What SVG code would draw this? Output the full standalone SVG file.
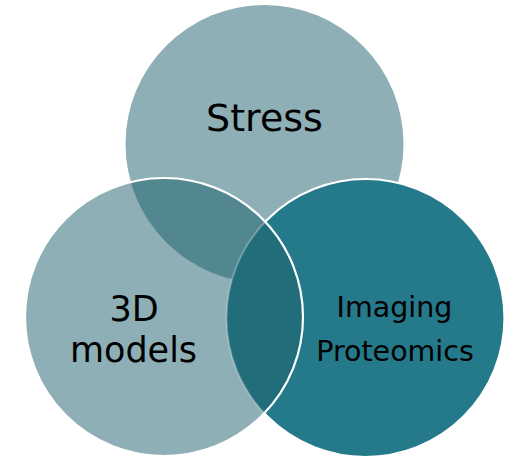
<svg xmlns="http://www.w3.org/2000/svg" width="515" height="459" viewBox="0 0 515 459">
  <style>
    .light { fill: #8EAFB5; }
    .dark { fill: #247A8A; }
    .edge { fill: none; stroke: #FFFFFF; stroke-width: 2.2; }
    .faint { fill: none; stroke: #FFFFFF; stroke-opacity: 0.28; stroke-width: 2; }
    .label { font-family: "DejaVu Sans", "Liberation Sans", sans-serif; fill: #000000; text-anchor: middle; }
  </style>
  <defs>
    <clipPath id="clipLeft">
      <circle cx="164" cy="317" r="139"/>
    </clipPath>
  </defs>
  <rect x="0" y="0" width="515" height="459" fill="#FFFFFF"/>

  <g id="node-stress">
    <circle class="light" cx="264.5" cy="144" r="139"/>
    <text class="label" x="264.5" y="131" font-size="38">Stress</text>
  </g>

  <g id="node-imaging-proteomics">
    <circle class="dark" cx="365.5" cy="318" r="139"/>
    <circle class="edge" cx="365.5" cy="318" r="139"/>
    <text class="label" x="394.5" y="317" font-size="28.5">Imaging</text>
    <text class="label" x="395" y="361" font-size="28.5">Proteomics</text>
  </g>

  <g id="node-3d-models">
    <circle class="light" cx="164" cy="317" r="139"/>
    <g clip-path="url(#clipLeft)">
      <circle cx="264.5" cy="144" r="139" fill="#53878F"/>
      <circle cx="365.5" cy="318" r="139" fill="#216D7A"/>
      <circle class="faint" cx="365.5" cy="318" r="139"/>
    </g>
    <circle class="edge" cx="164" cy="317" r="139"/>
    <text class="label" x="134" y="321" font-size="35">3D</text>
    <text class="label" x="133.5" y="361.5" font-size="35">models</text>
  </g>

  <g id="connectors"/>
</svg>
